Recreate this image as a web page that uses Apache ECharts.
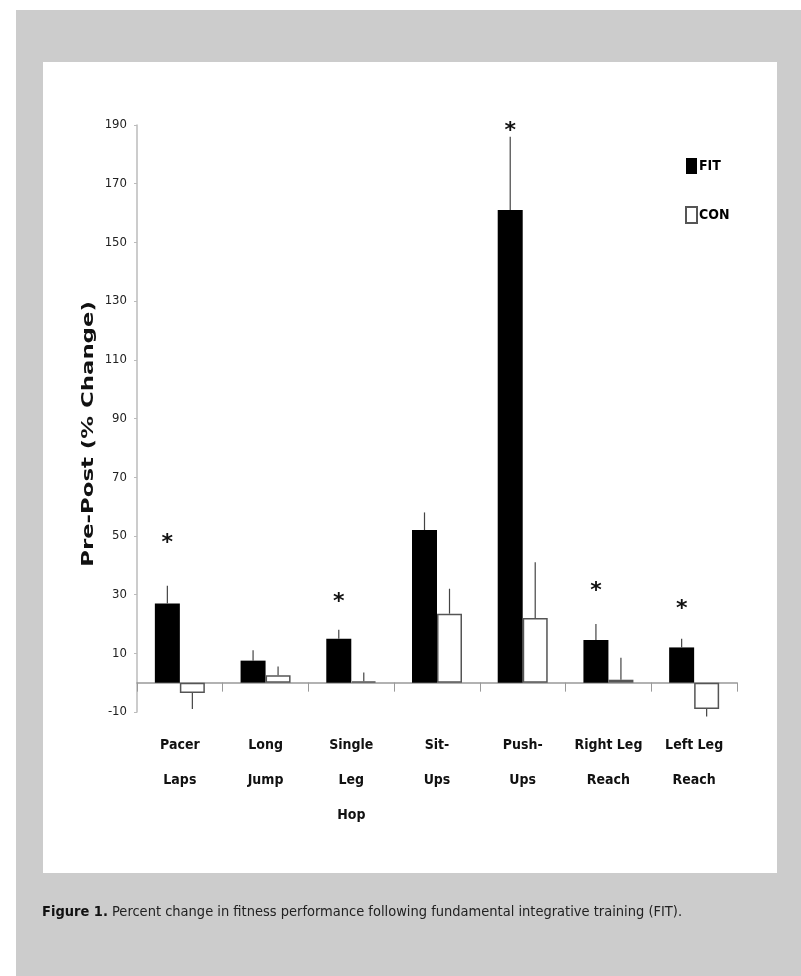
<!DOCTYPE html>
<html>
<head>
<meta charset="utf-8">
<script src="https://cdn.jsdelivr.net/npm/echarts@6/dist/echarts.min.js"></script>
<style>
  html, body { margin: 0; padding: 0; background: #fff; }
  #chart { width: 801px; height: 976px; }
</style>
</head>
<body>
<div id="chart"></div>
<script>
// values (% change pre to post)
const categories = ['Pacer\nLaps', 'Long\nJump', 'Single\nLeg\nHop', 'Sit-\nUps', 'Push-\nUps', 'Right Leg\nReach', 'Left Leg\nReach'];
const fitValues = [27, 7.5, 15, 52, 161, 14.5, 12];
const fitErrTop = [33, 11, 18, 58, 186, 20, 15];
const conValues = [-3.5, 2.5, 0.5, 23.5, 22, 1, -9];
const conErrEnd = [-9, 5.5, 3.5, 32, 41, 8.5, -11.5];
const starValues = [47.5, null, 27.5, null, 188, 31, 25];

const narrow = '"Liberation Sans Narrow", "DejaVu Sans Condensed", sans-serif';
const barW = 25;

const chart = echarts.init(document.getElementById('chart'));

// error bar rows: [category, from, to, side]  side -1 = FIT, +1 = CON
const errData = [];
categories.forEach((c, i) => {
  errData.push([i, fitValues[i], fitErrTop[i], -1]);
  errData.push([i, conValues[i], conErrEnd[i], 1]);
});
const starData = [];
starValues.forEach((v, i) => { if (v != null) starData.push([i, v]); });

const option = {
  backgroundColor: '#fff',
  animation: false,
  graphic: [
    { type: 'rect', z: -10, shape: { x: 16, y: 10, width: 785, height: 966 }, style: { fill: '#cccccc' } },
    { type: 'rect', z: -9, shape: { x: 43, y: 62, width: 734, height: 811 }, style: { fill: '#ffffff' } },
    {
      type: 'text', x: 89, y: 434, rotation: Math.PI / 2, scaleX: 1.52,
      style: {
        text: 'Pre-Post (% Change)', fontFamily: '"DejaVu Sans", sans-serif', fontWeight: 'bold',
        fontSize: 15, fill: '#111', align: 'center', verticalAlign: 'middle'
      }
    },
    {
      type: 'text', x: 42, y: 912,
      style: {
        text: '{b|Figure 1.} Percent change in fitness performance following fundamental integrative training (FIT).',
        fontFamily: narrow, fontSize: 14.5, fill: '#222', verticalAlign: 'middle',
        rich: { b: { fontFamily: narrow, fontSize: 14.5, fontWeight: 'bold', fill: '#111' } }
      }
    }
  ],
  legend: {
    data: ['FIT', 'CON'],
    orient: 'vertical',
    left: 685,
    top: 158,
    padding: 0,
    itemWidth: 11,
    itemHeight: 16,
    itemGap: 32,
    icon: 'rect',
    textStyle: { fontFamily: narrow, fontWeight: 'bold', fontSize: 14, color: '#000', padding: [0, 0, 0, -3] }
  },
  grid: { left: 137, right: 64, top: 125, bottom: 264 },
  xAxis: {
    type: 'category',
    data: categories,
    axisLine: { onZero: true, lineStyle: { color: '#999', width: 1.5 } },
    axisTick: { show: true, interval: 0, length: 9, lineStyle: { color: '#999' } },
    axisLabel: {
      interval: 0, margin: 16, fontFamily: narrow, fontWeight: 'bold',
      fontSize: 14, lineHeight: 35, color: '#111'
    }
  },
  yAxis: {
    type: 'value',
    min: -10,
    max: 190,
    interval: 20,
    splitLine: { show: false },
    axisLine: { show: true, lineStyle: { color: '#bbb', width: 1.5 } },
    axisTick: { show: true, length: 3, lineStyle: { color: '#bbb' } },
    axisLabel: { fontFamily: narrow, fontSize: 13, color: '#222', margin: 10 }
  },
  series: [
    {
      name: 'FIT', type: 'bar', data: fitValues, barWidth: barW, barGap: 0,
      itemStyle: { color: '#000' }
    },
    {
      name: 'CON', type: 'bar', data: conValues, barWidth: barW,
      itemStyle: { color: '#fff', borderColor: '#555', borderWidth: 1.5 }
    },
    {
      type: 'custom', name: 'err', data: errData, z: 5, silent: true,
      renderItem: function (params, api) {
        const a = api.coord([api.value(0), api.value(1)]);
        const b = api.coord([api.value(0), api.value(2)]);
        const x = a[0] + api.value(3) * barW / 2;
        return {
          type: 'line',
          shape: { x1: x, y1: a[1], x2: x, y2: b[1] },
          style: { stroke: '#444', lineWidth: 1.2 }
        };
      }
    },
    {
      type: 'custom', name: 'star', data: starData, z: 6, silent: true,
      renderItem: function (params, api) {
        const p = api.coord([api.value(0), api.value(1)]);
        return {
          type: 'text',
          x: p[0] - barW / 2, y: p[1],
          style: {
            text: '*', fontFamily: '"DejaVu Sans", sans-serif', fontWeight: 'bold', fontSize: 22,
            fill: '#111', align: 'center', verticalAlign: 'middle'
          }
        };
      }
    }
  ]
};

chart.setOption(option);
</script>
</body>
</html>
